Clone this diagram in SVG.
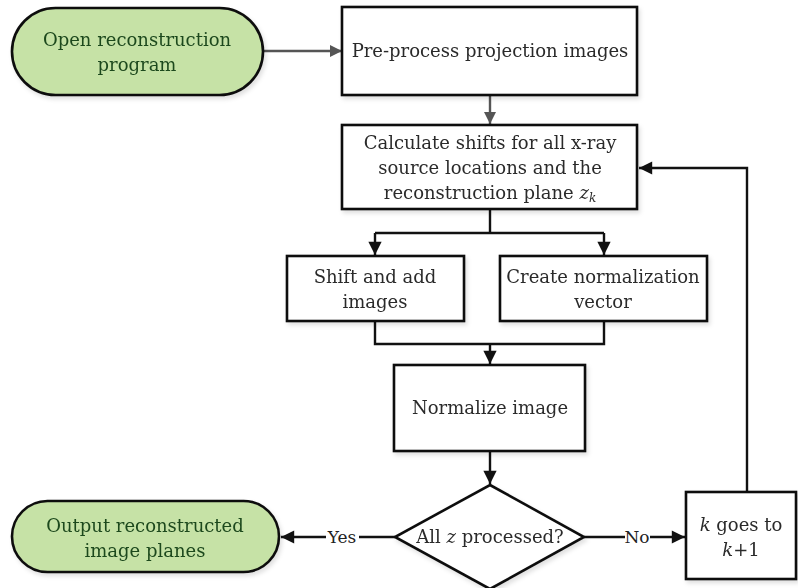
<svg xmlns="http://www.w3.org/2000/svg" width="798" height="588" viewBox="0 0 798 588">
  <style>
    .box { fill: #ffffff; stroke: #111111; stroke-width: 2.6; }
    .term { fill: #c6e2a6; stroke: #111111; stroke-width: 2.6; }
    .lbl { font-family: "DejaVu Serif", "Liberation Serif", serif; font-size: 18px; fill: #2b2b2b; text-anchor: middle; }
    .tlbl { font-family: "DejaVu Serif", "Liberation Serif", serif; font-size: 18px; fill: #1f4a1f; text-anchor: middle; }
    .elbl { font-family: "DejaVu Serif", "Liberation Serif", serif; font-size: 17px; fill: #222222; text-anchor: middle; }
    .wire { fill: none; stroke: #111111; stroke-width: 2.4; }
    .wire-g { fill: none; stroke: #555555; stroke-width: 2.4; }
  </style>
  <defs>
    <marker id="ah" viewBox="0 0 10 10" refX="10" refY="5" markerWidth="6" markerHeight="5.5" orient="auto" markerUnits="strokeWidth">
      <path d="M0,0 L10,5 L0,10 z" fill="#111111"/>
    </marker>
    <marker id="ahg" viewBox="0 0 10 10" refX="10" refY="5" markerWidth="6" markerHeight="5" orient="auto" markerUnits="strokeWidth">
      <path d="M0,0 L10,5 L0,10 z" fill="#555555"/>
    </marker>
    <filter id="shadow" x="-10%" y="-10%" width="125%" height="130%">
      <feDropShadow dx="2" dy="3" stdDeviation="2" flood-color="#000000" flood-opacity="0.12"/>
    </filter>
  </defs>
  <rect width="798" height="588" fill="#ffffff"/>

  <g id="connectors">
    <path class="wire-g" d="M263,51 L342,51" marker-end="url(#ahg)"/>
    <path class="wire-g" d="M490,95 L490,124" marker-end="url(#ahg)"/>
    <path class="wire" d="M490,209 L490,233"/>
    <path class="wire" d="M375,233 L604,233"/>
    <path class="wire" d="M375,233 L375,255" marker-end="url(#ah)"/>
    <path class="wire" d="M604,233 L604,255" marker-end="url(#ah)"/>
    <path class="wire" d="M375,321 L375,344 L604,344 L604,321"/>
    <path class="wire" d="M490,344 L490,364" marker-end="url(#ah)"/>
    <path class="wire" d="M490,451 L490,484" marker-end="url(#ah)"/>
    <path class="wire" d="M395,537 L359,537"/>
    <path class="wire" d="M326,537 L281,537" marker-end="url(#ah)"/>
    <text class="elbl" x="342" y="543">Yes</text>
    <path class="wire" d="M584,537 L625,537"/>
    <path class="wire" d="M650,537 L685,537" marker-end="url(#ah)"/>
    <text class="elbl" x="637" y="543">No</text>
    <path class="wire" d="M747,492 L747,168 L639,168" marker-end="url(#ah)"/>
  </g>

  <g id="open-program" filter="url(#shadow)">
    <rect class="term" x="12" y="8" width="251" height="87" rx="43.5" ry="43.5"/>
    <text class="tlbl" x="137" y="46">Open reconstruction</text>
    <text class="tlbl" x="137" y="71">program</text>
  </g>

  <g id="preprocess" filter="url(#shadow)">
    <rect class="box" x="342" y="7" width="295" height="88"/>
    <text class="lbl" x="490" y="57">Pre-process projection images</text>
  </g>

  <g id="calc-shifts" filter="url(#shadow)">
    <rect class="box" x="342" y="125" width="295" height="84"/>
    <text class="lbl" x="490" y="149">Calculate shifts for all x-ray</text>
    <text class="lbl" x="490" y="174">source locations and the</text>
    <text class="lbl" x="490" y="199">reconstruction plane <tspan font-style="italic">z</tspan><tspan font-style="italic" font-size="12" dy="3">k</tspan></text>
  </g>

  <g id="shift-add" filter="url(#shadow)">
    <rect class="box" x="287" y="256" width="177" height="65"/>
    <text class="lbl" x="375" y="283">Shift and add</text>
    <text class="lbl" x="375" y="308">images</text>
  </g>

  <g id="norm-vector" filter="url(#shadow)">
    <rect class="box" x="500" y="256" width="207" height="65"/>
    <text class="lbl" x="603" y="283">Create normalization</text>
    <text class="lbl" x="603" y="308">vector</text>
  </g>

  <g id="normalize" filter="url(#shadow)">
    <rect class="box" x="394" y="365" width="191" height="86"/>
    <text class="lbl" x="490" y="414">Normalize image</text>
  </g>

  <g id="all-z" filter="url(#shadow)">
    <path class="box" d="M490,485 L584,537 L490,589 L395,537 z"/>
    <text class="lbl" x="490" y="543">All <tspan font-style="italic">z</tspan> processed?</text>
  </g>

  <g id="k-next" filter="url(#shadow)">
    <rect class="box" x="686" y="492" width="110" height="87"/>
    <text class="lbl" x="741" y="531"><tspan font-style="italic">k</tspan> goes to</text>
    <text class="lbl" x="741" y="556"><tspan font-style="italic">k</tspan>+1</text>
  </g>

  <g id="output-planes" filter="url(#shadow)">
    <rect class="term" x="12" y="501" width="267" height="71" rx="35.5" ry="35.5"/>
    <text class="tlbl" x="145" y="532">Output reconstructed</text>
    <text class="tlbl" x="145" y="557">image planes</text>
  </g>
</svg>
